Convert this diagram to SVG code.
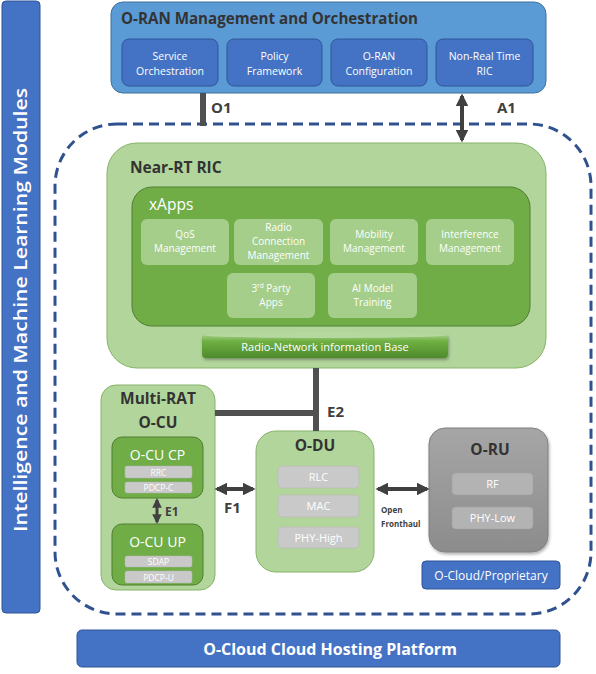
<svg xmlns="http://www.w3.org/2000/svg" width="596" height="674" viewBox="0 0 596 674">
<defs>
<style>
.t{font-family:"Open Sans","Liberation Sans",sans-serif}
.hd{font-weight:bold;fill:#333333}
.w{fill:#ffffff}
.blue{fill:#4472c4;stroke:#2f5597;stroke-width:1}
.lg{fill:#b2d59b;stroke:#86b36a;stroke-width:1}
.dg{fill:#70ad47;stroke:#507e32;stroke-width:1}
.app{fill:#a5ce8a;stroke:none}
.gr{fill:#c9c9c9;stroke:#b5b5b5;stroke-width:0.5}
.grd{fill:#b3b3b3;stroke:#a0a0a0;stroke-width:0.5}
.lbl{font-weight:bold;fill:#3f3f3f}
.ln{stroke:#505050;stroke-width:6;fill:none}
.ar{stroke:#404040;stroke-width:4;fill:none}
</style>
<marker id="ah" viewBox="0 0 10 10" refX="8" refY="5" markerWidth="3.2" markerHeight="3.2" orient="auto-start-reverse">
<path d="M0,0 L10,5 L0,10 z" fill="#404040"/>
</marker>
<linearGradient id="rnib" x1="0" y1="0" x2="0" y2="1">
<stop offset="0" stop-color="#a9d18e"/>
<stop offset="0.3" stop-color="#6fb043"/>
<stop offset="1" stop-color="#4e8a2c"/>
</linearGradient>
<linearGradient id="oru" x1="0" y1="0" x2="0" y2="1">
<stop offset="0" stop-color="#a6a6a6"/>
<stop offset="1" stop-color="#8c8c8c"/>
</linearGradient>
<filter id="sh" x="-10%" y="-10%" width="120%" height="130%">
<feDropShadow dx="1" dy="2" stdDeviation="1.5" flood-color="#000" flood-opacity="0.3"/>
</filter>
</defs>
<rect width="596" height="674" fill="#ffffff"/>

<g id="aiml">
<rect x="2" y="1" width="38" height="612" rx="4" class="blue"/>
<text class="t w" x="0" y="0" transform="translate(27,310) rotate(-90)" text-anchor="middle" font-size="17.5" font-weight="600" textLength="444" lengthAdjust="spacingAndGlyphs">Intelligence and Machine Learning Modules</text>
</g>

<g id="ocloud-boundary">
<rect x="55" y="124" width="536" height="490" rx="62" fill="none" stroke="#2f528f" stroke-width="3" stroke-dasharray="10 6"/>
</g>

<g id="smo">
<rect x="111" y="2" width="435" height="91" rx="12" fill="#5b9bd5" stroke="#41719c" stroke-width="1"/>
<text class="t hd" x="121" y="24" font-size="16" textLength="297" lengthAdjust="spacingAndGlyphs">O-RAN Management and Orchestration</text>
<g id="service-orch"><rect x="122" y="39" width="96" height="47" rx="7" class="blue"/>
<text class="t w" x="170" y="60" text-anchor="middle" font-size="10.5">Service</text><text class="t w" x="170" y="75" text-anchor="middle" font-size="10.5">Orchestration</text></g>
<g id="policy"><rect x="227" y="39" width="95" height="47" rx="7" class="blue"/>
<text class="t w" x="274.5" y="60" text-anchor="middle" font-size="10.5">Policy</text><text class="t w" x="274.5" y="75" text-anchor="middle" font-size="10.5">Framework</text></g>
<g id="oran-config"><rect x="331" y="39" width="96" height="47" rx="7" class="blue"/>
<text class="t w" x="379" y="60" text-anchor="middle" font-size="10.5">O-RAN</text><text class="t w" x="379" y="75" text-anchor="middle" font-size="10.5">Configuration</text></g>
<g id="non-rt-ric"><rect x="436" y="39" width="97" height="47" rx="7" class="blue"/>
<text class="t w" x="484.5" y="60" text-anchor="middle" font-size="10.5">Non-Real Time</text><text class="t w" x="484.5" y="75" text-anchor="middle" font-size="10.5">RIC</text></g>
</g>

<g id="near-rt-ric">
<rect x="107" y="143" width="439" height="225" rx="30" class="lg"/>
<text class="t hd" x="130" y="173" font-size="15.5">Near-RT RIC</text>
<g id="xapps">
<rect x="132" y="187" width="398" height="139" rx="20" class="dg"/>
<text class="t w" x="149" y="210" font-size="15.5">xApps</text>
<g id="qos"><rect x="141" y="219" width="88" height="46" rx="6" class="app"/>
<text class="t w" x="185" y="238" text-anchor="middle" font-size="10">QoS</text><text class="t w" x="185" y="252" text-anchor="middle" font-size="10">Management</text></g>
<g id="radio-conn"><rect x="234" y="219" width="89" height="46" rx="6" class="app"/>
<text class="t w" x="278.5" y="231" text-anchor="middle" font-size="10">Radio</text><text class="t w" x="278.5" y="245" text-anchor="middle" font-size="10">Connection</text><text class="t w" x="278.5" y="259" text-anchor="middle" font-size="10">Management</text></g>
<g id="mobility"><rect x="330" y="219" width="88" height="46" rx="6" class="app"/>
<text class="t w" x="374" y="238" text-anchor="middle" font-size="10">Mobility</text><text class="t w" x="374" y="252" text-anchor="middle" font-size="10">Management</text></g>
<g id="interference"><rect x="426" y="219" width="88" height="46" rx="6" class="app"/>
<text class="t w" x="470" y="238" text-anchor="middle" font-size="10">Interference</text><text class="t w" x="470" y="252" text-anchor="middle" font-size="10">Management</text></g>
<g id="third-party"><rect x="227" y="273" width="88" height="45" rx="6" class="app"/>
<text class="t w" x="271" y="292" text-anchor="middle" font-size="10">3<tspan font-size="6.5" dy="-4">rd</tspan><tspan dy="4"> Party</tspan></text><text class="t w" x="271" y="306" text-anchor="middle" font-size="10">Apps</text></g>
<g id="ai-model"><rect x="328" y="273" width="89" height="45" rx="6" class="app"/>
<text class="t w" x="372.5" y="292" text-anchor="middle" font-size="10">AI Model</text><text class="t w" x="372.5" y="306" text-anchor="middle" font-size="10">Training</text></g>
</g>
<g id="rnib">
<rect x="202" y="334" width="246" height="24" rx="4" fill="url(#rnib)" filter="url(#sh)"/>
<ellipse cx="325" cy="335" rx="123" ry="3" fill="#b5d8a0"/>
<text class="t w" x="325" y="351" text-anchor="middle" font-size="11">Radio-Network information Base</text>
</g>
</g>

<g id="multi-rat-ocu">
<rect x="101" y="385" width="114" height="205" rx="15" class="lg"/>
<text class="t hd" x="158" y="404" text-anchor="middle" font-size="15.5">Multi-RAT</text>
<text class="t hd" x="158" y="428" text-anchor="middle" font-size="15.5">O-CU</text>
<g id="ocu-cp">
<rect x="112" y="437" width="91" height="61" rx="10" class="dg"/>
<text class="t w" x="157.5" y="460" text-anchor="middle" font-size="14">O-CU CP</text>
<rect x="125" y="466" width="67" height="12" rx="2" class="gr"/>
<text class="t w" x="158.5" y="475.5" text-anchor="middle" font-size="8.5">RRC</text>
<rect x="125" y="482" width="67" height="11" rx="2" class="gr"/>
<text class="t w" x="158.5" y="491" text-anchor="middle" font-size="8.5">PDCP-C</text>
</g>
<g id="ocu-up">
<rect x="112" y="524" width="91" height="61" rx="10" class="dg"/>
<text class="t w" x="157.5" y="547" text-anchor="middle" font-size="14">O-CU UP</text>
<rect x="125" y="556" width="67" height="11" rx="2" class="gr"/>
<text class="t w" x="158.5" y="565" text-anchor="middle" font-size="8.5">SDAP</text>
<rect x="125" y="571" width="67" height="12" rx="2" class="gr"/>
<text class="t w" x="158.5" y="580.5" text-anchor="middle" font-size="8.5">PDCP-U</text>
</g>
</g>

<g id="o-du">
<rect x="256" y="431" width="118" height="141" rx="20" class="lg"/>
<text class="t hd" x="315" y="451" text-anchor="middle" font-size="15.5">O-DU</text>
<rect x="278" y="466" width="81" height="22" rx="4" class="gr"/>
<text class="t w" x="318.5" y="481" text-anchor="middle" font-size="11">RLC</text>
<rect x="278" y="495" width="81" height="22" rx="4" class="gr"/>
<text class="t w" x="318.5" y="510" text-anchor="middle" font-size="11">MAC</text>
<rect x="278" y="527" width="81" height="21" rx="4" class="gr"/>
<text class="t w" x="318.5" y="542" text-anchor="middle" font-size="11">PHY-High</text>
</g>

<g id="o-ru">
<rect x="429" y="428" width="119" height="124" rx="16" fill="url(#oru)" stroke="#7f7f7f" stroke-width="1" filter="url(#sh)"/>
<text class="t hd" x="490" y="455" text-anchor="middle" font-size="15.5">O-RU</text>
<rect x="452" y="473" width="81" height="22" rx="4" class="grd"/>
<text class="t w" x="492.5" y="488" text-anchor="middle" font-size="11">RF</text>
<rect x="452" y="507" width="81" height="22" rx="4" class="grd"/>
<text class="t w" x="492.5" y="522" text-anchor="middle" font-size="11">PHY-Low</text>
</g>

<g id="ocloud-proprietary">
<rect x="422" y="561" width="138" height="28" rx="4" class="blue"/>
<text class="t w" x="491" y="580" text-anchor="middle" font-size="12">O-Cloud/Proprietary</text>
</g>

<g id="ocloud-platform">
<rect x="77" y="630" width="483" height="37" rx="5" class="blue"/>
<text class="t w" x="330" y="655" text-anchor="middle" font-size="16" font-weight="bold">O-Cloud Cloud Hosting Platform</text>
</g>

<g id="connectors">
<line x1="203" y1="93" x2="203" y2="126" class="ln"/>
<text class="t lbl" x="211" y="113" font-size="15">O1</text>
<line x1="462" y1="96" x2="462" y2="140" class="ar" marker-start="url(#ah)" marker-end="url(#ah)"/>
<text class="t lbl" x="497" y="113" font-size="15">A1</text>
<polyline points="215,413 316,413" class="ln"/>
<line x1="316" y1="368" x2="316" y2="431" class="ln"/>
<text class="t lbl" x="327" y="417" font-size="15">E2</text>
<line x1="157" y1="500" x2="157" y2="522" stroke="#404040" stroke-width="3" marker-start="url(#ah)" marker-end="url(#ah)"/>
<text class="t lbl" x="165" y="516" font-size="12">E1</text>
<line x1="217" y1="489" x2="253" y2="489" class="ar" marker-start="url(#ah)" marker-end="url(#ah)"/>
<text class="t lbl" x="224" y="513" font-size="15">F1</text>
<line x1="378" y1="489" x2="427" y2="489" class="ar" marker-start="url(#ah)" marker-end="url(#ah)"/>
<text class="t lbl" x="381" y="513" font-size="8">Open</text>
<text class="t lbl" x="381" y="527" font-size="8">Fronthaul</text>
</g>
</svg>
